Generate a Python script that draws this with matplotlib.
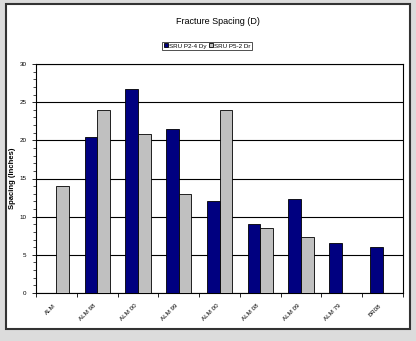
import numpy as np
import matplotlib.pyplot as plt
from matplotlib.patches import Rectangle

plt.rcParams['font.family'] = ['Liberation Sans', 'DejaVu Sans']

# fracture spacing per site
sites = ["ALM", "ALM 98", "ALM 00", "ALM 99", "ALM 00", "ALM 08", "ALM 09", "ALM 79", "BR08"]
dry = [0, 20.4, 26.7, 21.5, 12.0, 9.0, 12.3, 6.5, 6.0]
wet = [14.0, 24.0, 20.8, 13.0, 24.0, 8.5, 7.3, 0, 0]
series_names = ["SRU P2-4 Dy", "SRU P5-2 Dr"]

W, H = 416, 341
fig = plt.figure(figsize=(W / 100, H / 100), dpi=100)
fig.patch.set_facecolor("#dcdcdc")

# white panel with dark border
fig.patches.append(Rectangle((6 / W, 1 - 329 / H), 404 / W, 325 / H,
                             transform=fig.transFigure, facecolor="white",
                             edgecolor="#333333", linewidth=1.5, zorder=-5))

ax = fig.add_axes([36 / W, 1 - 293 / H, 367 / W, 229 / H])
x = np.arange(len(sites))
w = 0.31
ax.bar(x - w / 2, dry, w, color="#000080", edgecolor="black", linewidth=0.6,
       label=series_names[0], zorder=3)
ax.bar(x + w / 2, wet, w, color="#c0c0c0", edgecolor="black", linewidth=0.6,
       label=series_names[1], zorder=3)

ax.set_xlim(-0.5, len(sites) - 0.5)
ax.set_ylim(0, 30)
ax.set_yticks(range(0, 31, 5))
ax.set_yticks(range(0, 31, 1), minor=True)
ax.yaxis.grid(True, color="black", linewidth=0.8, zorder=0)
ax.tick_params(axis="y", which="major", labelsize=4.5, length=3, width=0.6, pad=4)
ax.tick_params(axis="y", which="minor", length=2, width=0.5)

# category ticks sit between groups
ax.set_xticks(np.arange(len(sites) + 1) - 0.5)
ax.set_xticklabels([])
ax.set_xticks(x, minor=True)
ax.set_xticklabels(sites, minor=True, rotation=45, ha="right", fontsize=4.5)
ax.tick_params(axis="x", which="major", length=3, width=0.6)
ax.tick_params(axis="x", which="minor", length=0, pad=7)

for s in ax.spines.values():
    s.set_linewidth(0.8)

ax.set_ylabel("Spacing (Inches)", fontsize=5.5, labelpad=2, fontweight="bold")
fig.text(218 / W, 1 - 22 / H, "Fracture Spacing (D)", ha="center", va="center", fontsize=6.5)

leg = ax.legend(loc="center", bbox_to_anchor=(207 / W, 1 - 46 / H), bbox_transform=fig.transFigure,
                ncol=2, fontsize=4.5, frameon=True, fancybox=False, edgecolor="black",
                handlelength=0.6, handleheight=0.6, handletextpad=0.2, columnspacing=0.4,
                borderpad=0.3, borderaxespad=0)
leg.get_frame().set_linewidth(0.6)

fig.savefig("out.png", dpi=100, facecolor=fig.get_facecolor())
